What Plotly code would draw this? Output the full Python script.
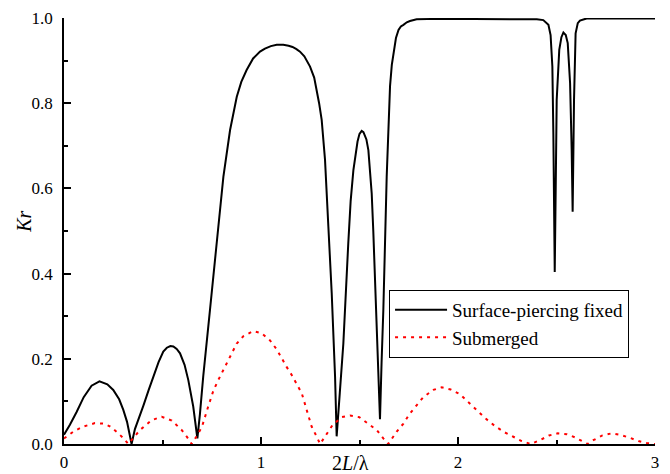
import plotly.graph_objects as go

# Surface-piercing fixed (black solid)
x_fixed = [0.0, 0.03, 0.064, 0.1, 0.14, 0.18, 0.22, 0.25, 0.28, 0.301, 0.32, 0.335, 0.343,
           0.36, 0.38, 0.403, 0.43, 0.453, 0.48, 0.504, 0.522, 0.54, 0.555, 0.572, 0.589, 0.612,
           0.631, 0.656, 0.668, 0.677, 0.69, 0.707, 0.741, 0.775, 0.809, 0.843, 0.877, 0.9, 0.927,
           0.96, 0.995, 1.02, 1.05, 1.08, 1.113, 1.14, 1.16, 1.18, 1.198, 1.22, 1.249, 1.27, 1.283,
           1.295, 1.308, 1.325, 1.342, 1.359, 1.376, 1.384,
           1.40, 1.418, 1.443, 1.455, 1.469, 1.49, 1.50, 1.511, 1.52, 1.535, 1.545, 1.553, 1.562,
           1.57, 1.579, 1.587, 1.596, 1.604,
           1.612, 1.621, 1.638, 1.655, 1.664, 1.672, 1.685, 1.698, 1.71, 1.723, 1.74, 1.756, 1.79,
           1.9, 2.1, 2.3, 2.4,
           2.433, 2.459, 2.47, 2.479, 2.484, 2.489, 2.491, 2.496, 2.501, 2.514, 2.525, 2.535, 2.547,
           2.557, 2.569, 2.577, 2.582, 2.589, 2.597, 2.608, 2.619, 2.653, 2.8, 3.0]
kr_fixed = [0.022, 0.045, 0.075, 0.11, 0.137, 0.147, 0.14, 0.127, 0.105, 0.08, 0.052, 0.018, 0.0,
            0.035, 0.063, 0.09, 0.127, 0.158, 0.192, 0.217, 0.226, 0.230, 0.229, 0.223, 0.213, 0.186,
            0.150, 0.088, 0.045, 0.013, 0.07, 0.16, 0.315, 0.471, 0.627, 0.737, 0.815, 0.85, 0.878,
            0.905, 0.921, 0.928, 0.934, 0.937, 0.937, 0.935, 0.932, 0.927, 0.921, 0.91, 0.886, 0.86, 0.831,
            0.80, 0.761, 0.667, 0.51, 0.354, 0.158, 0.018,
            0.12, 0.236, 0.471, 0.57, 0.643, 0.71, 0.728, 0.735, 0.732, 0.715, 0.69, 0.65, 0.588,
            0.50, 0.393, 0.28, 0.158, 0.058,
            0.19, 0.315, 0.627, 0.84, 0.89, 0.917, 0.953, 0.972, 0.98, 0.984, 0.99, 0.993, 0.997,
            0.998, 0.998, 0.998, 0.997,
            0.995, 0.984, 0.96, 0.886, 0.729, 0.502, 0.404, 0.6, 0.808, 0.925, 0.955, 0.966, 0.96,
            0.941, 0.847, 0.69, 0.545, 0.808, 0.964, 0.988, 0.994, 0.999, 0.999, 0.999]

# Submerged (red dotted)
x_sub = [0.0, 0.05, 0.098, 0.157, 0.2, 0.235, 0.276, 0.305, 0.326, 0.355, 0.386, 0.445, 0.496,
         0.547, 0.597, 0.625, 0.648, 0.67, 0.7, 0.73, 0.758, 0.783, 0.826, 0.851, 0.877, 0.91,
         0.961, 1.003, 1.046, 1.08, 1.105, 1.13, 1.156, 1.181, 1.207, 1.232, 1.257, 1.283, 1.30,
         1.33, 1.364, 1.41, 1.452, 1.499, 1.545, 1.587, 1.621, 1.646, 1.689, 1.723, 1.753, 1.79,
         1.824, 1.875, 1.917, 1.963, 2.01, 2.053, 2.098, 2.142, 2.188, 2.234, 2.281, 2.323, 2.369,
         2.416, 2.462, 2.506, 2.552, 2.597, 2.641, 2.658, 2.687, 2.733, 2.78, 2.826, 2.87, 2.916,
         2.961, 3.0]
kr_sub = [0.013, 0.03, 0.041, 0.049, 0.048, 0.041, 0.025, 0.012, 0.0, 0.016, 0.033, 0.056, 0.064,
          0.055, 0.033, 0.016, 0.0, 0.016, 0.04, 0.085, 0.125, 0.15, 0.189, 0.213, 0.236, 0.253,
          0.265, 0.26, 0.243, 0.222, 0.201, 0.181, 0.162, 0.141, 0.119, 0.08, 0.041, 0.017, 0.0,
          0.021, 0.045, 0.063, 0.067, 0.063, 0.048, 0.033, 0.013, 0.0, 0.029, 0.048, 0.07, 0.091,
          0.11, 0.127, 0.133, 0.128, 0.117, 0.098, 0.078, 0.059, 0.042, 0.028, 0.017, 0.007, 0.0,
          0.009, 0.020, 0.025, 0.023, 0.015, 0.004, 0.0, 0.009, 0.020, 0.025, 0.021, 0.015, 0.007,
          0.002, 0.0]

x_ticks = [0, 1, 2, 3]
x_tick_labels = ["0", "1", "2", "3"]
y_ticks = [0.0, 0.2, 0.4, 0.6, 0.8, 1.0]
y_tick_labels = ["0.0", "0.2", "0.4", "0.6", "0.8", "1.0"]

FONT = "Liberation Serif, Times New Roman, serif"

fig = go.Figure()
fig.add_trace(go.Scatter(x=x_fixed, y=kr_fixed, mode="lines", name="Surface-piercing fixed",
                         line=dict(color="black", width=2)))
fig.add_trace(go.Scatter(x=x_sub, y=kr_sub, mode="lines", name="Submerged",
                         line=dict(color="red", width=2, dash="3px,5px")))

fig.update_layout(
    width=670, height=474,
    margin=dict(l=64, r=15, t=18, b=30, autoexpand=False),
    paper_bgcolor="white", plot_bgcolor="white",
    font=dict(family=FONT, size=17, color="black"),
    showlegend=True,
    legend=dict(x=0.55, y=0.362, xanchor="left", yanchor="top",
                bgcolor="white", bordercolor="black", borderwidth=1,
                font=dict(family=FONT, size=19, color="black"),
                tracegroupgap=0, itemwidth=52),
    xaxis=dict(range=[0, 3], showgrid=False, zeroline=False, automargin=False,
               showline=True, linecolor="black", linewidth=1.5,
               ticks="inside", ticklen=7, tickwidth=1.5, tickcolor="black",
               tickvals=x_ticks, ticktext=x_tick_labels,
               tickfont=dict(family=FONT, size=17),
               ticklabelstandoff=2,
               minor=dict(ticks="inside", ticklen=4, tickwidth=1.5, tickcolor="black", dtick=0.5,
                          showgrid=False)),
    yaxis=dict(range=[0, 1.0], showgrid=False, zeroline=False, automargin=False,
               showline=True, linecolor="black", linewidth=1.5,
               ticks="inside", ticklen=7, tickwidth=1.5, tickcolor="black",
               tickvals=y_ticks, ticktext=y_tick_labels,
               tickfont=dict(family=FONT, size=17),
               ticklabelstandoff=6,
               minor=dict(ticks="inside", ticklen=4, tickwidth=1.5, tickcolor="black", dtick=0.1,
                          showgrid=False)),
)

fig.add_annotation(text="2<i>L</i>/λ", xref="paper", yref="paper", x=0.484, y=-0.045,
                   xanchor="center", yanchor="middle", showarrow=False,
                   font=dict(family=FONT, size=20, color="black"))
fig.add_annotation(text="<i>Kr</i>", xref="paper", yref="paper", x=-0.068, y=0.521,
                   xanchor="center", yanchor="middle", showarrow=False, textangle=-90,
                   font=dict(family=FONT, size=20, color="black"))

fig.write_html("out.html")
